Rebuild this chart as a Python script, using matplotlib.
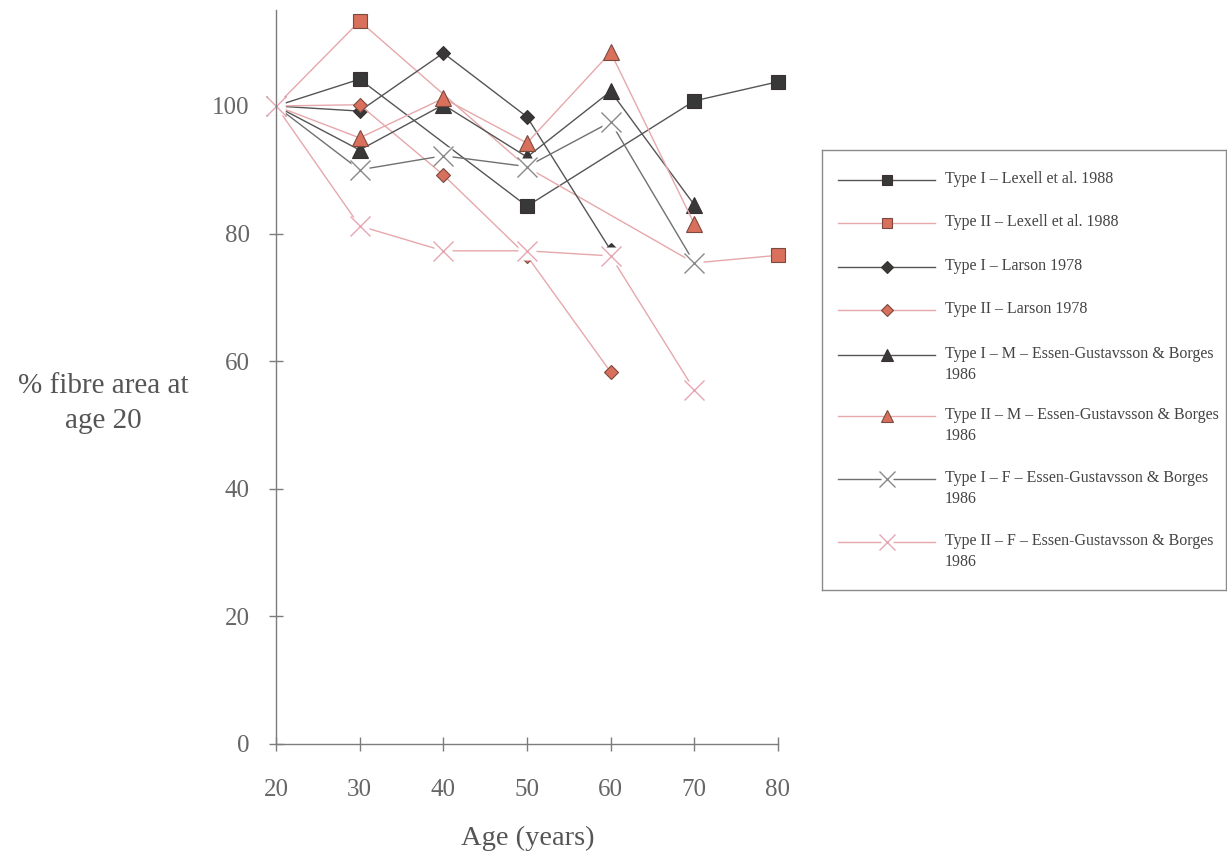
import matplotlib
matplotlib.use("Agg")
import matplotlib.pyplot as plt

# Relative fibre area (% of value at age 20) by age group
ages_lexell = [20, 30, 50, 70, 80]
type1_lexell = [100, 104.2, 84.3, 100.8, 103.8]
type2_lexell = [100, 113.3, 90.4, 75.4, 76.6]

ages_larson = [20, 30, 40, 50, 60]
type1_larson = [100, 99.2, 108.3, 98.3, 77.4]
type2_larson = [100, 100.2, 89.2, 76.5, 58.3]

ages_eg = [20, 30, 40, 50, 60, 70]
type1_m = [100, 93.1, 100.2, 92.0, 102.3, 84.5]
type2_m = [100, 95.0, 101.2, 94.2, 108.4, 81.5]
type1_f = [100, 90.0, 92.2, 90.5, 97.5, 75.4]
type2_f = [100, 81.2, 77.3, 77.3, 76.5, 55.5]

labels = [
    "Type I \u2013 Lexell et al. 1988",
    "Type II \u2013 Lexell et al. 1988",
    "Type I \u2013 Larson 1978",
    "Type II \u2013 Larson 1978",
    "Type I \u2013 M \u2013 Essen-Gustavsson & Borges\n1986",
    "Type II \u2013 M \u2013 Essen-Gustavsson & Borges\n1986",
    "Type I \u2013 F \u2013 Essen-Gustavsson & Borges\n1986",
    "Type II \u2013 F \u2013 Essen-Gustavsson & Borges\n1986",
]
x_ticks = [20, 30, 40, 50, 60, 70, 80]
y_ticks = [0, 20, 40, 60, 80, 100]

DARK_LINE = "#555555"
PINK_LINE = "#e6a8ab"
DARK_FILL = "#383838"
RED_FILL = "#d9705c"
EDGE = "#3a3030"

series = [
    (ages_lexell, type1_lexell, dict(color=DARK_LINE, marker="s", mfc=DARK_FILL, mec=EDGE, ms=10)),
    (ages_lexell, type2_lexell, dict(color=PINK_LINE, marker="s", mfc=RED_FILL, mec="#7a4a40", ms=10)),
    (ages_larson, type1_larson, dict(color=DARK_LINE, marker="D", mfc=DARK_FILL, mec=EDGE, ms=7.5)),
    (ages_larson, type2_larson, dict(color=PINK_LINE, marker="D", mfc=RED_FILL, mec="#7a4a40", ms=7.5)),
    (ages_eg, type1_m, dict(color=DARK_LINE, marker="^", mfc=DARK_FILL, mec=EDGE, ms=11)),
    (ages_eg, type2_m, dict(color=PINK_LINE, marker="^", mfc=RED_FILL, mec="#7a4a40", ms=11)),
    (ages_eg, type1_f, dict(color="#707070", marker="x", mfc="none", mec="#8a8a8a", ms=14)),
    (ages_eg, type2_f, dict(color=PINK_LINE, marker="x", mfc="none", mec="#e6a7b2", ms=14)),
]

W, H = 1227, 861
fig = plt.figure(figsize=(W / 100, H / 100), dpi=100, facecolor="white")

SERIF = ["Liberation Serif", "DejaVu Serif"]
TEXT = "#555555"

ax = fig.add_axes([276 / W, 1 - 744 / H, (778 - 276) / W, (744 - 10) / H])
ax.set_facecolor("none")


def draw_series(axis, xs, ys, style, z, x_bg_size):
    """Line with markers; cross markers sit on a white patch that masks what is beneath."""
    axis.plot(xs, ys, color=style["color"], lw=1.0, zorder=z, clip_on=False)
    if style["marker"] == "x":
        axis.plot(xs, ys, ls="none", marker="s", ms=x_bg_size, mfc="white", mec="none",
                  zorder=z + 0.1, clip_on=False)
        axis.plot(xs, ys, ls="none", marker="x", ms=style["ms"], mec=style["mec"], mew=1.0,
                  zorder=z + 0.2, clip_on=False)
    else:
        axis.plot(xs, ys, ls="none", marker=style["marker"], ms=style["ms"], mfc=style["mfc"],
                  mec=style["mec"], mew=0.8, zorder=z + 0.2, clip_on=False)


for i, (xs, ys, st) in enumerate(series):
    draw_series(ax, xs, ys, st, 2 + i, 13)

ax.set_xlim(20, 80)
ax.set_ylim(0, (744 - 10) / 6.38)
ax.set_xticks(x_ticks)
ax.set_yticks(y_ticks)
for side in ("top", "right"):
    ax.spines[side].set_visible(False)
for side in ("left", "bottom"):
    ax.spines[side].set_color("#7c7c7c")
    ax.spines[side].set_linewidth(1.0)
    ax.spines[side].set_zorder(20)
ax.tick_params(axis="both", direction="inout", length=10, width=1, color="#7c7c7c",
               labelcolor="#666666", labelsize=18)
ax.tick_params(axis="y", pad=14)
ax.tick_params(axis="x", pad=20)
for lab in ax.get_xticklabels() + ax.get_yticklabels():
    lab.set_family(SERIF)

fig.text(103 / W, 1 - 404 / H, "% fibre area at\nage 20", ha="center", va="center",
         fontsize=21, family=SERIF, color=TEXT, linespacing=1.45)
fig.text(528 / W, 1 - 838 / H, "Age (years)", ha="center", va="center",
         fontsize=20.5, family=SERIF, color=TEXT)

# Legend panel in pixel units
L, T, R, B = 822, 150, 1226, 590
lax = fig.add_axes([L / W, 1 - B / H, (R - L) / W, (B - T) / H])
lax.set_xlim(L, R)
lax.set_ylim(B, T)
lax.set_xticks([])
lax.set_yticks([])
lax.set_facecolor("none")
for sp in lax.spines.values():
    sp.set_color("#8a8a8a")
    sp.set_linewidth(1.0)

entry_y = [180, 223, 267, 310, 355, 416, 479, 542]
for (xs, ys, st), label, y in zip(series, labels, entry_y):
    small = dict(st)
    small["ms"] = st["ms"] * 0.78
    draw_series(lax, [838, 887, 935], [y, y, y], small, 2, 9)
    lax.lines[-1].set_markevery([1])
    if st["marker"] == "x":
        lax.lines[-2].set_markevery([1])
    lax.text(945, y - 9, label, ha="left", va="top", fontsize=11.5, family=SERIF,
             color="#444444", linespacing=1.45)

fig.savefig("out.png", dpi=100, facecolor="white")
